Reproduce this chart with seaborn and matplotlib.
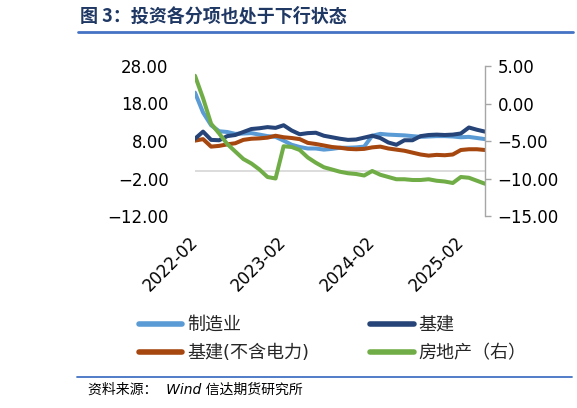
import numpy as np
import pandas as pd
import matplotlib
matplotlib.use("Agg")
import matplotlib.pyplot as plt
import seaborn as sns
from matplotlib.lines import Line2D

# ---------------- data ----------------
months = (["2022-%02d" % m for m in range(2, 13)] +
          ["2023-%02d" % m for m in range(2, 13)] +
          ["2024-%02d" % m for m in range(2, 13)] +
          ["2025-%02d" % m for m in range(2, 6)])

manufacturing = [20.9, 15.6, 12.2, 10.6, 10.4, 9.9, 10.0, 10.1, 9.7, 9.3, 9.1,
                 8.1, 7.0, 6.4, 6.0, 6.0, 5.7, 5.9, 6.2, 6.2, 6.3, 6.5,
                 9.4, 9.9, 9.7, 9.6, 9.5, 9.3, 9.1, 9.2, 9.3, 9.3, 9.2,
                 9.0, 9.1, 8.8, 8.5]
infra = [8.6, 10.5, 8.3, 8.2, 9.3, 9.6, 10.4, 11.2, 11.4, 11.7, 11.5,
         12.2, 10.8, 9.8, 10.1, 10.2, 9.4, 9.0, 8.6, 8.3, 8.4, 8.9,
         9.4, 8.8, 7.6, 7.0, 8.2, 8.2, 9.3, 9.6, 9.7, 9.6, 9.7,
         10.0, 11.6, 11.0, 10.5]
infra_ex_power = [8.1, 8.5, 6.5, 6.7, 7.1, 7.4, 8.3, 8.6, 8.7, 8.9, 9.4,
                  9.0, 8.8, 8.5, 7.5, 7.2, 6.8, 6.4, 6.2, 5.9, 5.8, 5.9,
                  6.3, 6.5, 6.0, 5.7, 5.4, 4.9, 4.4, 4.1, 4.3, 4.2, 4.4,
                  5.6, 5.8, 5.8, 5.6]
real_estate = [3.7, 0.7, -2.7, -4.0, -5.4, -6.4, -7.4, -8.0, -8.8, -9.8, -10.0,
               -5.7, -5.8, -6.2, -7.2, -7.9, -8.5, -8.8, -9.1, -9.3, -9.4, -9.6,
               -9.0, -9.5, -9.8, -10.1, -10.1, -10.2, -10.2, -10.1, -10.3, -10.4, -10.6,
               -9.8, -9.9, -10.3, -10.7]

labels = ["制造业", "基建", "基建(不含电力)", "房地产（右）"]
colors = ["#5B9BD5", "#264478", "#A5470F", "#70AD47"]
left_ticks = [-12, -2, 8, 18, 28]
right_ticks = [-15, -10, -5, 0, 5]
xtick_labels = ["2022-02", "2023-02", "2024-02", "2025-02"]

# ---------------- style ----------------
sns.set_style("white")
plt.rcParams["font.family"] = ["DejaVu Sans", "Noto Sans CJK SC"]
plt.rcParams["axes.unicode_minus"] = True

df = pd.DataFrame({"x": np.arange(len(months)), "month": months,
                   "m": manufacturing, "i": infra, "ie": infra_ex_power,
                   "re": real_estate})

fig = plt.figure(figsize=(5.77, 4.08), dpi=100)
W, H = 577, 408
ax = fig.add_axes([195 / W, 1 - 216 / H, 290 / W, 150 / H])
ax2 = ax.twinx()

ax.axhline(0, color="#D9D9D9", lw=1.3, zorder=1)
lw = 2.9
sns.lineplot(data=df, x="x", y="m", ax=ax, color=colors[0], lw=lw, zorder=3)
sns.lineplot(data=df, x="x", y="i", ax=ax, color=colors[1], lw=lw, zorder=4)
sns.lineplot(data=df, x="x", y="ie", ax=ax, color=colors[2], lw=lw, zorder=3)
sns.lineplot(data=df, x="x", y="re", ax=ax2, color=colors[3], lw=lw, zorder=3)

ax.set_xlim(0, len(months) - 1)
ax.set_ylim(-12, 28)
ax2.set_ylim(-15, 5)
ax.set_yticks(left_ticks)
ax.set_yticklabels([f"{v:.2f}".replace("-", "\u2212") for v in left_ticks])
ax2.set_yticks(right_ticks)
ax2.set_yticklabels([f"{v:.2f}".replace("-", "\u2212") for v in right_ticks])

tick_pos = [months.index(t) for t in xtick_labels]
ax.set_xticks(tick_pos)
ax.set_xticklabels(xtick_labels, rotation=45, ha="right", va="center",
                   rotation_mode="anchor")

for a in (ax, ax2):
    a.set_xlabel("")
    a.set_ylabel("")
    for s in a.spines.values():
        s.set_visible(False)
ax2.spines["right"].set_visible(True)
ax2.spines["right"].set_color("#A6A6A6")
ax2.spines["right"].set_linewidth(1.0)

ax.tick_params(axis="y", length=0, pad=19, labelsize=12, colors="black")
ax.tick_params(axis="x", length=0, pad=17, labelsize=12, colors="black")
ax2.tick_params(axis="y", length=4, width=1, color="#A6A6A6", pad=5,
                labelsize=12, labelcolor="black", direction="out")
ax.patch.set_visible(False)

# legend
handles = [Line2D([], [], color=c, lw=4) for c in colors]
order = [0, 2, 1, 3]
fig.legend([handles[k] for k in order], [labels[k] for k in order],
           ncol=2, frameon=False, loc="upper left",
           bbox_to_anchor=(139 / W, 1 - 316 / H), borderaxespad=0, borderpad=0,
           handlelength=2.4, handletextpad=0.25, columnspacing=3.4,
           labelspacing=0.55, fontsize=13)

# title and decorations
fig.text(80 / W, 1 - 16 / H, "图 3：投资各分项也处于下行状态", fontsize=13,
         fontweight="bold", color="#1F3864", va="center", ha="left",
         family=["Noto Sans CJK SC", "DejaVu Sans"])
fig.add_artist(Line2D([78 / W, 573 / W], [1 - 32 / H, 1 - 32 / H],
                      color="#4472C4", lw=2, transform=fig.transFigure))
fig.add_artist(Line2D([77 / W, 572 / W], [1 - 377 / H, 1 - 377 / H],
                      color="#4472C4", lw=1.3, transform=fig.transFigure))
fig.text(88 / W, 1 - 390 / H, "资料来源：  Wind 信达期货研究所", fontsize=10,
         style="italic", color="black", va="center", ha="left",
         family=["DejaVu Sans", "Noto Sans CJK SC"])

fig.savefig("out.png", dpi=100, facecolor="white")
